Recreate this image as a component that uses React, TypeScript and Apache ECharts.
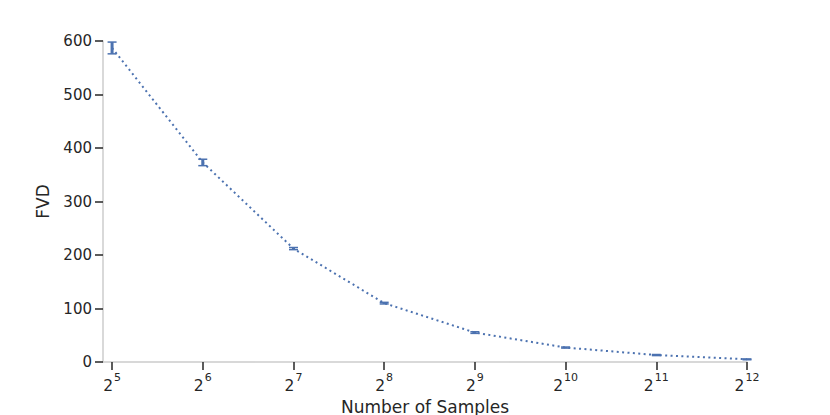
import React, { useEffect, useRef } from "react";
import * as echarts from "echarts";

const exponents = [5, 6, 7, 8, 9, 10, 11, 12];
const fvdMean = [587, 373, 212, 110, 55, 27, 13, 5];
const fvdLow = [576, 367, 210, 108.5, 53.5, 26, 12, 4.2];
const fvdHigh = [598, 379, 214, 111.5, 56.5, 28, 14, 5.8];
const yTicks = [0, 100, 200, 300, 400, 500, 600];

const BLUE = "#4C72B0";
const TEXT = "#262626";
const FONT = "DejaVu Sans";

export default function App() {
  const ref = useRef<HTMLDivElement>(null);
  useEffect(() => {
    if (!ref.current) return;
    const chart = echarts.init(ref.current, undefined, { renderer: "svg" });
    const lineData = exponents.map((e, i) => [e, fvdMean[i]]);
    const errData = exponents.map((e, i) => [e, fvdLow[i], fvdHigh[i]]);
    chart.setOption({
      animation: false,
      grid: {
        left: 103,
        right: 83,
        top: 41,
        bottom: 53,
        containLabel: false,
        outerBoundsMode: "none",
      },
      xAxis: {
        type: "value",
        min: 4.9,
        max: 12,
        name: "Number of Samples",
        nameLocation: "middle",
        nameGap: 34,
        nameTextStyle: { fontFamily: FONT, fontSize: 17, color: TEXT },
        axisLine: { show: true, lineStyle: { color: "#cccccc", width: 1.5 } },
        axisTick: {
          show: true,
          customValues: exponents,
          length: 8,
          lineStyle: { color: TEXT, width: 1.5 },
        },
        axisLabel: {
          customValues: exponents,
          margin: 10,
          formatter: (v: number) => `{b|2}{s|${Math.round(v)}}`,
          rich: {
            b: { fontFamily: FONT, fontSize: 15.5, color: TEXT, lineHeight: 22, verticalAlign: "bottom" },
            s: { fontFamily: FONT, fontSize: 11, color: TEXT, lineHeight: 22, verticalAlign: "top", padding: [0, 0, 5, 1] },
          },
        },
        splitLine: { show: false },
      },
      yAxis: {
        type: "value",
        min: 0,
        max: 600,
        interval: 100,
        name: "FVD",
        nameLocation: "middle",
        nameGap: 52,
        nameTextStyle: { fontFamily: FONT, fontSize: 17, color: TEXT },
        axisLine: { show: true, lineStyle: { color: "#cccccc", width: 1.5 } },
        axisTick: { show: true, length: 8, lineStyle: { color: TEXT, width: 1.5 } },
        axisLabel: {
          margin: 11,
          fontFamily: FONT,
          fontSize: 15,
          color: TEXT,
          customValues: yTicks,
        },
        splitLine: { show: false },
      },
      series: [
        {
          type: "line",
          data: lineData,
          symbol: "none",
          lineStyle: { color: BLUE, width: 2, type: [2, 3.4], cap: "butt" },
          z: 2,
        },
        {
          type: "custom",
          data: errData,
          z: 3,
          renderItem: (params: any, api: any) => {
            const x = api.value(0);
            const lo = api.coord([x, api.value(1)]);
            const hi = api.coord([x, api.value(2)]);
            const hw = 4.5;
            const style = { stroke: BLUE, lineWidth: 3, fill: "none" };
            return {
              type: "group",
              children: [
                { type: "line", shape: { x1: lo[0], y1: lo[1], x2: hi[0], y2: hi[1] }, style },
                { type: "line", shape: { x1: lo[0] - hw, y1: lo[1], x2: lo[0] + hw, y2: lo[1] }, style: { ...style, lineWidth: 1.5 } },
                { type: "line", shape: { x1: hi[0] - hw, y1: hi[1], x2: hi[0] + hw, y2: hi[1] }, style: { ...style, lineWidth: 1.5 } },
              ],
            };
          },
        },
      ],
    });
    return () => chart.dispose();
  }, []);
  return <div ref={ref} style={{ width: 830, height: 415, position: "absolute", left: 0, top: 0 }} />;
}
